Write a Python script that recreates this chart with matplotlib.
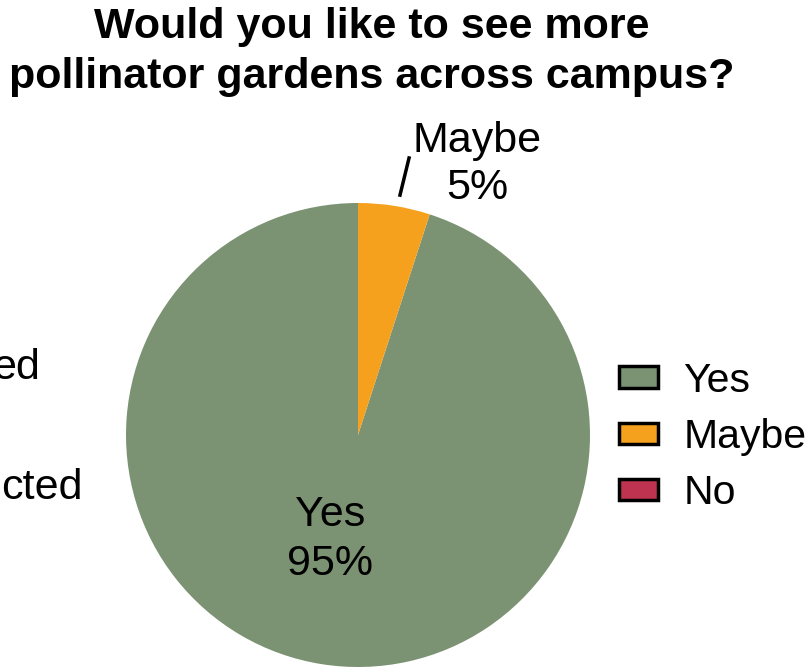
import matplotlib.pyplot as plt
from matplotlib.patches import Patch

plt.rcParams['font.family'] = ['Liberation Sans', 'DejaVu Sans']

# Data
categories = ["Yes", "Maybe", "No"]
values = [95, 5, 0]
colors = ["#7B9373", "#F6A11E", "#BE3350"]
title = "Would you like to see more\npollinator gardens across campus?"

W, H = 807, 671
FS = 31
fig = plt.figure(figsize=(W / 100, H / 100), dpi=100)

# pie axes: center (358, 435) px, radius 232 px
cx, cy, r = 358, 435, 232
ax = fig.add_axes([(cx - r) / W, (H - cy - r) / H, 2 * r / W, 2 * r / H])
wedges, _ = ax.pie(values, colors=colors, startangle=90, counterclock=True,
                   radius=1, wedgeprops=dict(linewidth=0))
ax.set_xlim(-1, 1)
ax.set_ylim(-1, 1)
ax.set_aspect("equal")
ax.axis("off")

# data labels
total = sum(values)
ax.text(-0.12, -0.45, f"{categories[0]}\n{values[0] / total:.0%}", ha="center",
        va="center", fontsize=FS, linespacing=1.28)
ax.text(0.513, 1.165, f"{categories[1]}\n{values[1] / total:.0%}", ha="center",
        va="center", fontsize=FS, linespacing=1.22, clip_on=False)
ax.plot([0.181, 0.22], [1.034, 1.194], color="black", lw=2.5, clip_on=False)

fig.text(372 / W, 1 - 52 / H, title, ha="center", va="center", fontsize=FS,
         fontweight="bold", linespacing=1.3)

# clipped text from neighbouring chart
fig.text(40 / W, 1 - 368 / H, "ed", ha="right", va="center", fontsize=FS)
fig.text(83 / W, 1 - 488 / H, "cted", ha="right", va="center", fontsize=FS)

handles = [Patch(facecolor=c, edgecolor="black", linewidth=2.5) for c in colors]
fig.legend(handles, categories, loc="center left", bbox_to_anchor=(611 / W, 1 - 437 / H),
           frameon=False, fontsize=29.5, handlelength=0.95, handleheight=0.42,
           labelspacing=0.45, handletextpad=0.62, borderaxespad=0, borderpad=0.2)

fig.savefig("out.png", dpi=100)
